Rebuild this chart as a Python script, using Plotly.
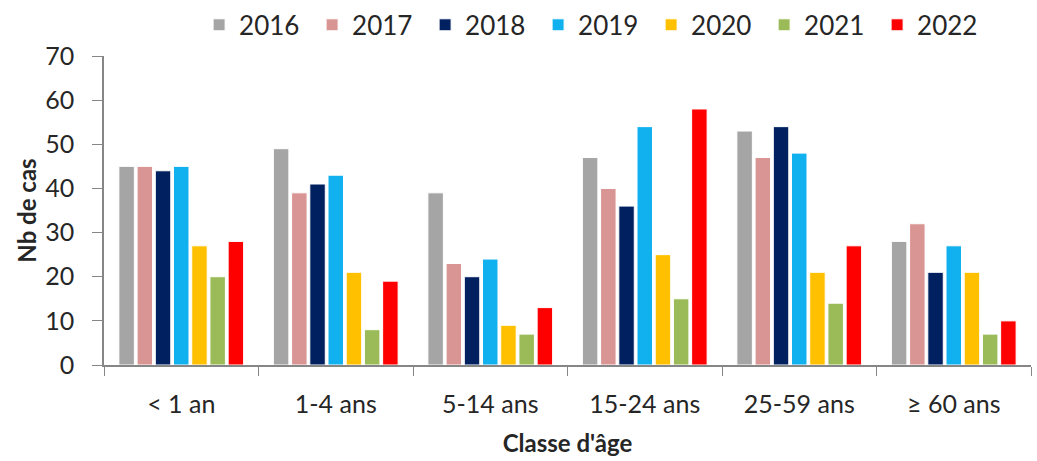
import plotly.graph_objects as go

categories = ["< 1 an", "1-4 ans", "5-14 ans", "15-24 ans", "25-59 ans", "≥ 60 ans"]
years = ["2016", "2017", "2018", "2019", "2020", "2021", "2022"]
v2016 = [45, 49, 39, 47, 53, 28]
v2017 = [45, 39, 23, 40, 47, 32]
v2018 = [44, 41, 20, 36, 54, 21]
v2019 = [45, 43, 24, 54, 48, 27]
v2020 = [27, 21, 9, 25, 21, 21]
v2021 = [20, 8, 7, 15, 14, 7]
v2022 = [28, 19, 13, 58, 27, 10]
series = [v2016, v2017, v2018, v2019, v2020, v2021, v2022]
colors = ["#A5A5A5", "#D99594", "#002060", "#11B0EF", "#FFC000", "#9BBB59", "#FF0000"]

FONT = "Lato, Carlito, Calibri, sans-serif"
TXT = "#262626"

fig = go.Figure()
for y, vals, c in zip(years, series, colors):
    fig.add_trace(go.Bar(
        name=y, x=categories, y=vals,
        marker=dict(color=c, line=dict(color="white", width=1)),
    ))

fig.update_layout(
    width=1037, height=461,
    margin=dict(l=104, r=6, t=56, b=96),
    paper_bgcolor="white", plot_bgcolor="white",
    barmode="group", bargap=0.175, bargroupgap=0.15,
    font=dict(family=FONT, size=24, color=TXT),
    legend=dict(
        orientation="h", xref="container", yref="container",
        x=0.192, y=0.946, xanchor="left", yanchor="middle",
        font=dict(size=26, color=TXT),
        entrywidth=68, entrywidthmode="pixels",
        traceorder="normal", bgcolor="rgba(0,0,0,0)",
    ),
    xaxis=dict(
        automargin=False,
        showline=True, linecolor="#868686", linewidth=1.5,
        ticks="outside", tickson="boundaries", ticklen=9, tickcolor="#868686",
        ticklabelstandoff=16,
        tickfont=dict(size=25, color=TXT),
        title=dict(text="<b>Classe d'âge</b>", font=dict(size=24, color=TXT), standoff=18),
        showgrid=False,
    ),
    yaxis=dict(
        automargin=False,
        range=[0, 70], dtick=10,
        showline=True, linecolor="#868686", linewidth=1.5,
        ticks="outside", ticklen=10, tickcolor="#868686",
        ticklabelstandoff=13,
        tickfont=dict(size=25, color=TXT),
        title=dict(text="<b>Nb de cas</b>", font=dict(size=24, color=TXT), standoff=2),
        showgrid=False, zeroline=False,
    ),
)

fig.write_html(
    "out.html",
    config={"displayModeBar": False},
    post_script="document.body.style.margin='0';document.body.style.overflow='hidden';",
)
